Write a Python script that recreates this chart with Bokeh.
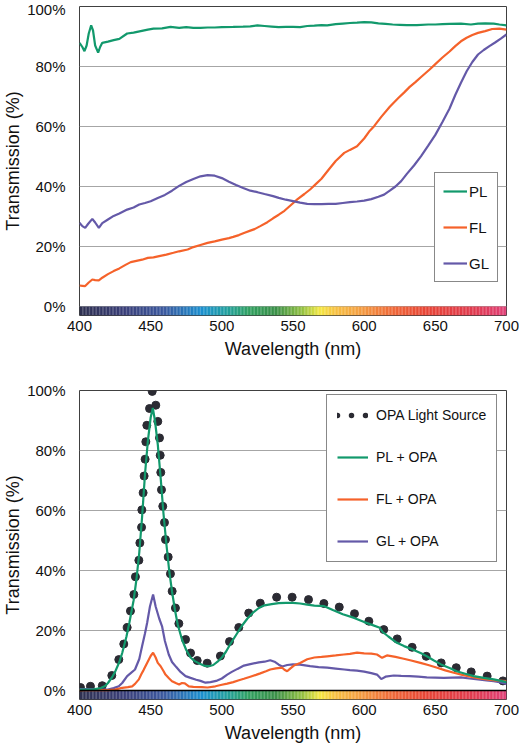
from bokeh.plotting import figure
from bokeh.models import (Range1d, FixedTicker, PrintfTickFormatter, Legend, LegendItem,
                          Span, ColumnDataSource)
from bokeh.layouts import column
from bokeh.embed import file_html
from bokeh.resources import INLINE
import numpy as np

# ---------------- data: top chart (filters alone) ----------------
pl_nm = [400, 402, 403.5, 405, 406.5, 408.2, 409.5, 411, 413.1, 414.5, 416, 420, 424, 428, 433.5, 438, 443,
         448, 452, 458, 464, 470, 475, 480, 485, 490, 495, 500, 508, 515, 520, 525, 530, 535, 540, 545, 550,
         555, 560, 565, 570, 574, 580, 585, 590, 595, 600, 605, 610, 615, 620, 625, 630, 637, 645, 650, 655,
         660, 668, 675, 680, 685, 691, 695, 700]
pl_t = [87.9, 86.5, 85.1, 87.0, 91.0, 93.7, 92.0, 87.0, 84.6, 86.5, 87.9, 88.3, 88.8, 89.2, 91.0, 91.3, 91.8,
        92.3, 92.6, 92.7, 93.2, 92.9, 93.1, 92.9, 92.9, 93.0, 93.0, 93.1, 93.2, 93.3, 93.4, 93.7, 93.5, 93.3,
        93.1, 93.2, 93.2, 93.1, 93.5, 93.6, 93.8, 93.7, 94.1, 94.3, 94.5, 94.6, 94.8, 94.7, 94.4, 94.2, 94.0,
        93.9, 93.8, 93.8, 94.0, 94.0, 94.1, 94.2, 94.3, 94.0, 94.3, 94.4, 94.3, 94.0, 93.7]

fl_nm = [400, 402, 404, 406.5, 409, 411, 413.6, 416, 420, 424, 428, 432, 436, 440, 444, 448, 452, 456, 461,
         466, 470, 476, 480, 485, 490, 495, 500, 505, 508, 512, 516, 520, 523, 527, 532, 536, 540, 544, 548,
         553, 558, 562, 566, 570, 575, 580, 586, 590, 595, 600, 604, 607, 612, 618, 624, 628, 632, 636, 640,
         646, 650, 655, 660, 664, 668, 672, 676, 680, 685, 690, 695, 700]
fl_t = [7.0, 6.9, 6.8, 8.0, 9.0, 8.8, 8.7, 9.6, 10.8, 11.8, 12.7, 13.8, 14.8, 15.2, 15.6, 16.2, 16.4, 16.8,
        17.3, 17.9, 18.4, 19.0, 19.8, 20.5, 21.2, 21.7, 22.3, 22.8, 23.2, 23.8, 24.6, 25.3, 25.8, 26.8, 28.1,
        29.4, 30.6, 31.9, 33.6, 35.7, 37.5, 39.0, 40.8, 42.6, 45.6, 48.5, 51.2, 52.2, 53.4, 56.0, 58.6, 60.1,
        63.2, 66.6, 69.5, 71.3, 73.2, 74.8, 76.5, 79.0, 80.8, 83.0, 85.0, 86.8, 88.4, 89.6, 90.5, 91.2, 91.8,
        92.5, 92.6, 92.3]

gl_nm = [400, 402, 404, 406, 409, 411, 413.6, 416, 420, 424, 428, 433.5, 438, 442, 446, 450, 455, 460, 465,
         470, 475, 480, 485, 490, 495, 500, 505, 510, 515, 520, 525, 530, 536, 540, 545, 550, 555, 560, 565,
         570, 575, 580, 585, 590, 595, 600, 605, 610, 614, 618, 622, 626, 630, 635, 640, 645, 650, 655, 660,
         664, 668, 672, 676, 680, 684, 688, 692, 696, 700]
gl_t = [27.9, 26.8, 26.2, 27.5, 29.2, 28.0, 26.2, 27.8, 29.0, 30.2, 31.0, 32.3, 33.0, 34.0, 34.5, 35.1, 36.2,
        37.2, 38.6, 40.2, 41.5, 42.5, 43.4, 43.8, 43.6, 42.8, 41.6, 40.5, 39.5, 38.6, 38.1, 37.5, 36.8, 36.2,
        35.6, 35.1, 34.6, 34.2, 34.1, 34.1, 34.2, 34.2, 34.5, 34.8, 35.0, 35.3, 35.8, 36.6, 37.3, 38.6, 40.0,
        41.8, 44.2, 47.0, 50.1, 53.6, 57.2, 61.5, 66.0, 70.5, 74.6, 78.4, 81.5, 84.0, 85.5, 86.8, 88.0, 89.3,
        90.7]

# ---------------- data: bottom chart (filters + OPA source) ----------------
opa_nm = [400.7, 407.7, 416.0, 422.7, 427.6, 431.1, 433.5, 435.8, 438.2, 439.3, 441.7, 442.4, 443.6, 443.8,
          444.7, 445.4, 446.1, 446.6, 447.3, 449.2, 451.1, 453.6, 455.0, 456.2, 456.7, 457.1, 457.6, 458.5,
          459.7, 460.4, 462.3, 463.9, 465.1, 467.4, 469.8, 474.5, 478.0, 482.7, 489.7, 499.0, 505.4, 511.9,
          518.9, 527.0, 538.5, 549.4, 560.9, 571.7, 582.5, 593.2, 603.3, 613.8, 623.2, 633.7, 643.6, 654.1,
          664.7, 675.2, 686.4, 697.5]
opa_t = [1.0, 1.4, 1.6, 5.0, 10.3, 15.5, 21.0, 26.5, 32.0, 37.9, 43.4, 49.2, 54.4, 60.2, 65.9, 71.5, 77.1,
         82.9, 88.4, 94.0, 99.7, 95.1, 89.7, 84.2, 78.4, 72.7, 66.9, 61.4, 56.0, 50.3, 44.5, 38.9, 33.1, 27.5,
         22.3, 17.0, 12.5, 10.0, 9.1, 11.5, 16.3, 21.0, 25.8, 29.1, 31.1, 31.1, 30.3, 29.0, 27.8, 25.6, 23.1,
         20.3, 17.2, 14.4, 11.4, 9.2, 7.6, 6.2, 4.8, 3.2]

plo_nm = [400, 405, 410, 415, 418, 420, 423, 425, 428, 430, 433, 435, 438, 440, 442, 444, 446, 448, 450,
          451.5, 453, 455, 457, 459, 461, 463, 465, 467, 469, 472, 475, 478, 481, 485, 488, 491, 494, 497, 500,
          503, 506, 510, 514, 518, 522, 526, 530, 535, 540, 545, 550, 555, 560, 565, 572, 578, 585, 593, 600,
          606, 611, 613, 617, 623, 628, 634, 640, 644, 649, 654, 660, 665, 671, 677, 684, 691, 696, 700]
plo_t = [0.3, 0.3, 0.4, 0.8, 1.5, 2.5, 4.5, 6.2, 9.5, 12.5, 18.0, 22.5, 30.0, 37.0, 46.0, 58.0, 72.0, 83.0,
         91.0, 94.2, 90.0, 82.0, 71.0, 59.0, 49.0, 40.0, 33.0, 27.0, 22.0, 17.0, 13.5, 11.0, 9.8, 8.8, 8.2, 8.1,
         8.5, 9.6, 11.0, 13.0, 15.5, 18.5, 21.5, 24.0, 26.0, 27.5, 28.4, 28.8, 29.1, 29.2, 29.2, 29.0, 28.6,
         28.3, 28.1, 26.8, 25.4, 24.2, 22.8, 21.8, 20.9, 19.5, 18.0, 15.9, 14.8, 13.7, 12.4, 11.4, 10.0, 8.7,
         7.5, 6.4, 5.6, 4.8, 4.2, 3.7, 3.2, 2.8]

flo_nm = [400, 410, 420, 425, 430, 434, 437, 439, 441.7, 443.5, 445, 447.5, 450, 451.7, 453.5, 455, 457, 459,
          460.4, 463, 465, 468, 470, 472, 474, 476.8, 480, 486, 490, 495.5, 500, 503.8, 508, 512, 515.5, 520,
          524, 527, 531, 534, 538, 542.4, 544, 545.9, 548, 550.6, 555, 560, 565, 570, 574, 580, 585.7, 590,
          595, 600, 605, 609, 612.6, 616, 622, 627.8, 633, 639.5, 645, 651.3, 657, 663, 669, 674.7, 680, 686,
          692, 700]
flo_t = [0.1, 0.1, 0.1, 0.3, 0.9, 1.1, 1.4, 2.2, 3.7, 5.5, 6.8, 9.2, 11.5, 12.6, 11.0, 9.2, 8.1, 6.5, 5.3,
         4.0, 3.1, 2.4, 2.0, 2.5, 2.4, 1.4, 1.2, 1.1, 1.0, 1.4, 1.9, 2.3, 2.8, 3.4, 3.9, 4.6, 5.2, 5.7, 6.4,
         7.0, 7.4, 7.6, 6.9, 6.4, 7.3, 8.3, 9.2, 10.4, 11.0, 11.2, 11.4, 11.7, 12.0, 12.2, 12.6, 12.4, 12.3,
         12.0, 10.9, 11.7, 11.2, 10.6, 10.0, 9.2, 8.5, 7.6, 6.7, 5.9, 5.2, 4.6, 4.1, 3.7, 3.4, 3.1]

glo_nm = [400, 405, 410, 415, 420, 424, 427.6, 430, 433.5, 436, 439, 442, 444, 446, 447.5, 449.5, 451.7,
          453.5, 456, 458, 460, 462.7, 465, 468, 471, 474.5, 478, 482, 485, 488.5, 492, 496, 500, 503.8, 507,
          511, 515.5, 520, 526, 530, 534, 537, 540, 542.4, 546, 550, 555, 562, 568, 574, 580, 586, 590, 595,
          600, 605, 609, 612, 615, 620.8, 626, 632, 638, 644, 650, 656, 662, 668, 674, 680, 686, 691, 696, 700]
glo_t = [0.5, 0.5, 0.4, 0.3, 0.3, 0.8, 1.4, 2.5, 4.8, 5.8, 7.0, 10.5, 14.8, 19.0, 22.5, 28.0, 32.0, 28.0,
         24.0, 21.4, 16.5, 12.0, 9.5, 7.8, 6.2, 4.8, 4.2, 3.6, 3.2, 2.6, 2.8, 3.2, 4.0, 5.3, 6.2, 7.2, 8.3,
         8.8, 9.4, 9.6, 10.1, 9.6, 8.6, 8.0, 8.5, 8.7, 8.6, 8.1, 7.8, 7.6, 7.3, 7.0, 6.8, 6.6, 6.3, 5.8, 5.3,
         3.8, 4.6, 5.0, 4.9, 4.8, 4.6, 4.4, 4.3, 4.2, 4.3, 4.4, 4.0, 3.7, 3.4, 3.1, 2.7, 2.2]

x_ticks = [400, 450, 500, 550, 600, 650, 700]
y_ticks = [0, 20, 40, 60, 80, 100]
top_labels = ["PL", "FL", "GL"]
bottom_labels = ["OPA Light Source", "PL + OPA", "FL + OPA", "GL + OPA"]

# ---------------- style ----------------
FONT = "Liberation Sans"
GREEN = "#12996c"
ORANGE = "#f5622a"
PURPLE = "#6459a8"
DOTC = "#2b2b33"
FW = 427   # frame width
FH = 309   # frame height

stop_nm = [400, 432, 460, 486, 503, 519, 538, 556, 569, 580, 596, 620, 643, 678, 700]
stop_col = ["#2e3050", "#3a3f7a", "#3a5aa0", "#1a90d0", "#20a0a0", "#30a060", "#3a9048", "#90c040",
            "#f5e840", "#f8c040", "#f5a040", "#f06838", "#e84535", "#e03a50", "#e04078"]


def hex2rgb(h):
    return [int(h[i:i + 2], 16) for i in (1, 3, 5)]


def spectrum_bar(p):
    edges = np.arange(400, 701, 1.0)
    mids = (edges[:-1] + edges[1:]) / 2
    rgb = np.array([hex2rgb(c) for c in stop_col], dtype=float)
    cols = []
    for m in mids:
        r, g, b = (np.interp(m, stop_nm, rgb[:, k]) for k in range(3))
        cols.append("#%02x%02x%02x" % (int(r), int(g), int(b)))
    src = ColumnDataSource(dict(left=edges[:-1], right=edges[1:] + 0.05, color=cols))
    p.quad(left="left", right="right", bottom=-3, top=0, fill_color="color", line_color=None, source=src)


def make_fig(top, bottom):
    p = figure(frame_width=FW, frame_height=FH, x_range=Range1d(400, 700), y_range=Range1d(-3, 100),
               output_backend="svg", toolbar_location=None,
               min_border_left=75, min_border_right=13, min_border_top=top, min_border_bottom=bottom)
    p.background_fill_color = "white"
    p.border_fill_color = "white"
    p.outline_line_color = "#404040"
    p.outline_line_width = 1
    p.xgrid.grid_line_color = None
    p.ygrid.grid_line_color = "#a6a6a6"
    p.ygrid.ticker = FixedTicker(ticks=[0, 20, 40, 60, 80])
    p.xaxis.ticker = FixedTicker(ticks=x_ticks)
    p.yaxis.ticker = FixedTicker(ticks=y_ticks)
    p.yaxis.formatter = PrintfTickFormatter(format="%d%%")
    for ax in (p.xaxis, p.yaxis):
        ax.axis_line_color = None
        ax.major_tick_line_color = None
        ax.minor_tick_line_color = None
        ax.major_tick_out = 0
        ax.major_tick_in = 0
        ax.major_label_text_font = FONT
        ax.major_label_text_font_size = "15px"
        ax.major_label_text_color = "#111111"
        ax.axis_label_text_font = FONT
        ax.axis_label_text_font_size = "18px"
        ax.axis_label_text_font_style = "normal"
        ax.axis_label_text_color = "#111111"
    p.xaxis.major_label_standoff = 5
    p.xaxis.axis_label_standoff = 5
    p.yaxis.major_label_standoff = 14
    p.yaxis.axis_label_standoff = 1
    p.xaxis.axis_label = "Wavelength (nm)"
    p.yaxis.axis_label = "Transmission (%)"
    spectrum_bar(p)
    return p


def style_legend(lg, fs):
    lg.border_line_color = "#111111"
    lg.border_line_width = 1
    lg.background_fill_color = "white"
    lg.background_fill_alpha = 1
    lg.label_text_font = FONT
    lg.label_text_font_size = fs
    lg.label_text_color = "#111111"


# ---------------- top chart ----------------
p1 = make_fig(6, 50)
r_pl = p1.line(pl_nm, pl_t, line_color=GREEN, line_width=2.2)
r_fl = p1.line(fl_nm, fl_t, line_color=ORANGE, line_width=2.2)
r_gl = p1.line(gl_nm, gl_t, line_color=PURPLE, line_width=2.2)
leg1 = Legend(items=[LegendItem(label=top_labels[0], renderers=[r_pl]),
                     LegendItem(label=top_labels[1], renderers=[r_fl]),
                     LegendItem(label=top_labels[2], renderers=[r_gl])],
              location=(FW - 9 - 63, 33), glyph_width=24, glyph_height=20, label_height=20,
              label_standoff=2, spacing=16, padding=8, margin=0)
style_legend(leg1, "15px")
p1.add_layout(leg1)

# ---------------- bottom chart ----------------
p2 = make_fig(25, 50)
p2.add_layout(Span(location=0, dimension="width", line_color="black", line_width=1.5))
r_opa = p2.scatter(opa_nm, opa_t, size=8, fill_color=DOTC, line_color=DOTC, marker="circle")
r_glo = p2.line(glo_nm, glo_t, line_color=PURPLE, line_width=2.2)
r_flo = p2.line(flo_nm, flo_t, line_color=ORANGE, line_width=2.2)
r_plo = p2.line(plo_nm, plo_t, line_color=GREEN, line_width=2.2)
# legend key for the dotted source: a one-point line (draws nothing in the plot) styled as dots
r_dots_key = p2.line(x=opa_nm[:1], y=opa_t[:1], line_color=DOTC, line_width=5.5,
                     line_dash="0 14", line_cap="round")
leg2 = Legend(items=[LegendItem(label=bottom_labels[0], renderers=[r_dots_key]),
                     LegendItem(label=bottom_labels[1], renderers=[r_plo]),
                     LegendItem(label=bottom_labels[2], renderers=[r_flo]),
                     LegendItem(label=bottom_labels[3], renderers=[r_glo])],
              location=(FW - 11 - 169, FH - 6 - 166), glyph_width=31, glyph_height=20, label_height=20,
              label_standoff=8, spacing=22, padding=10, margin=0)
style_legend(leg2, "14px")
p2.add_layout(leg2)

layout = column(p1, p2, spacing=0)
open("out.html", "w").write(file_html(layout, INLINE))
